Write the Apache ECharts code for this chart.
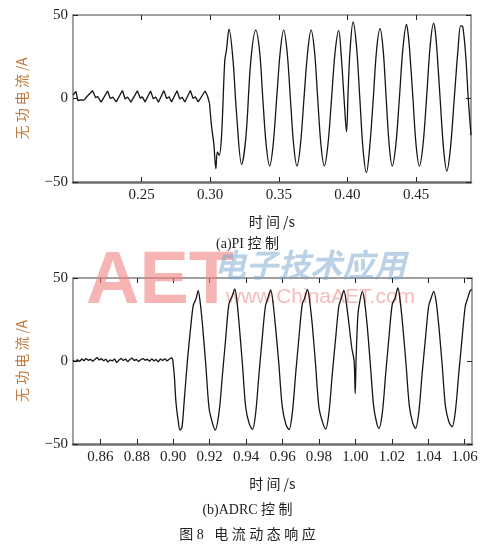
<!DOCTYPE html>
<html><head><meta charset="utf-8">
<script src="https://cdn.jsdelivr.net/npm/echarts@6/dist/echarts.min.js"></script>
<style>html,body{margin:0;padding:0;background:#fff}#c{width:495px;height:556px}</style>
</head><body><div id="c"></div>
<script>
// (a) PI control: time (s) and reactive current (A)
const piT = [0.2000,0.2022,0.2035,0.2060,0.2080,0.2105,0.2143,0.2165,0.2180,0.2205,0.2252,0.2272,0.2290,0.2315,0.2360,0.2380,0.2398,0.2422,0.2469,0.2490,0.2505,0.2525,0.2565,0.2585,0.2603,0.2622,0.2662,0.2682,0.2700,0.2718,0.2758,0.2778,0.2795,0.2815,0.2855,0.2875,0.2892,0.2912,0.2963,0.2980,0.2995,
0.3010,0.3026,0.3041,0.3052,0.3065,0.3082,0.3106,0.3118,0.3137,0.3166,0.3190,0.3229,0.3260,0.3296,0.3332,0.3360,0.3383,0.3408,0.3433,0.3458,0.3484,0.3510,0.3535,0.3560,0.3584,0.3608,0.3632,0.3657,0.3683,0.3710,0.3735,0.3760,0.3783,0.3807,0.3831,0.3857,0.3884,0.3910,0.3936,0.3955,0.3975,0.3993,0.4005,0.4018,0.4041,0.4066,0.4090,0.4114,0.4138,0.4162,0.4188,0.4212,0.4237,0.4260,0.4282,0.4304,0.4326,0.4352,0.4378,0.4404,0.4430,0.4440,0.4452,0.4477,0.4500,0.4524,0.4550,0.4576,0.4602,0.4627,0.4637,0.4650,0.4675,0.4700,0.4724,0.4750,0.4778,0.4806,0.4825,0.4840,0.4862,0.4880,0.4900];
const piI = [2.0,4.2,-1.2,-0.8,-1.0,1.5,4.6,0.5,1.2,-2.2,4.5,0.0,0.8,-2.0,4.8,-0.3,0.9,-2.2,4.6,0.2,1.0,-2.0,4.5,-0.2,0.9,-2.2,4.7,0.0,1.0,-2.0,4.6,-0.3,0.8,-2.1,4.8,0.0,1.0,-2.0,4.5,1.5,-3.0,
-17,-27,-42,-32,-34,-23,22.9,28.9,41.5,23,-7,-39.4,-23,23,41,28,0,-28,-40.4,-28,0,28,41,28,0,-28,-40.4,-28,0,28,41,28,0,-28,-40.4,-28,0,28,40.7,25,0,-20,5,28,45.8,31,0,-31,-44.4,-29,0,29,41.8,29,0,-28,-40.4,-28,0,30,44.4,40,30,0,-28,-40.5,-28,0,31,45,42,31,0,-30,-43.4,-30,0,30,43.5,43,25,0,-22];
const piStep = 0.2995;

// (b) ADRC control
const adrcT = [0.8450,0.8462,0.8474,0.8486,0.8498,0.8510,0.8522,0.8534,0.8546,0.8558,0.8570,0.8582,0.8594,0.8606,0.8618,0.8630,0.8642,0.8654,0.8666,0.8678,0.8690,0.8702,0.8714,0.8726,0.8738,0.8750,0.8762,0.8774,0.8786,0.8798,0.8810,0.8822,0.8834,0.8846,0.8858,0.8870,0.8882,0.8894,0.8906,0.8918,0.8930,0.8942,0.8954,0.8966,0.8978,0.8990,0.8997,
0.9006,0.9015,0.9028,0.9037,0.9048,0.9060,0.9079,0.9097,0.9110,0.9125,0.9137,0.9148,0.9161,0.9179,0.9197,0.9216,0.9230,0.9252,0.9270,0.9288,0.9306,0.9325,0.9338,0.9349,
0.9362,0.9380,0.9398,0.9418,0.9435,0.9452,0.9470,0.9488,0.9506,0.9520,0.9535,0.9547,0.9562,0.9580,0.9598,0.9618,0.9636,0.9654,0.9672,0.9690,0.9708,0.9722,0.9737,0.9749,0.9764,0.9782,0.9800,0.9820,0.9837,0.9855,0.9873,0.9891,0.9909,0.9923,0.9937,0.9950,0.9965,0.9980,0.9993,0.9999,1.0004,1.0014,1.0026,1.0038,1.0050,1.0065,1.0082,1.0100,1.0116,1.0129,1.0148,1.0166,1.0184,1.0202,1.0218,1.0233,1.0245,1.0260,1.0278,1.0296,1.0314,1.0330,1.0348,1.0366,1.0384,1.0402,1.0416,1.0430,1.0443,1.0458,1.0476,1.0494,1.0514,1.0531,1.0549,1.0567,1.0585,1.0603,1.0617,1.0630,1.0640];
const adrcI = [0.5,-0.5,0.8,-0.3,1.2,0.2,1.5,0.4,1.0,-0.2,0.9,2.2,0.6,1.4,0.1,1.1,-0.6,0.7,0.0,1.3,-1.0,0.5,1.6,0.3,1.2,-0.4,0.9,1.8,0.2,1.0,-0.3,0.8,1.5,0.4,1.1,-0.2,1.3,0.1,0.9,-0.5,1.2,0.3,1.4,0.0,1.1,2.0,1.2,
-8.6,-24.6,-36.6,-41.6,-40,-24.6,1.4,21.4,33.4,37.4,42.4,35.4,21.4,-2.6,-28.6,-37.6,-41.6,-30.6,-8.6,13.4,34.4,39.4,43.4,37,
22,-2,-28,-38,-41.2,-32,-9,13,33,38,42.8,36,20,-2,-27,-38,-41.4,-31,-8,14,34,38,43.2,36,21,-3,-28,-37,-41,-31,-8,13,33,38,42.5,35,22,8,0,-19.6,2,28,37,42,36,21,-2,-27,-37,-40.6,-31,-8,14,34,38,44,37,21,-2,-27,-37,-40.6,-31,-8,13,33,38,42,36,21,-2,-27,-37,-39.6,-30,-8,13,33,38,42.5,43];
const adrcStep = 0.8997;

const piTicks = [0.25,0.30,0.35,0.40,0.45];
const adrcTicks = [0.86,0.88,0.90,0.92,0.94,0.96,0.98,1.00,1.02,1.04,1.06];
const yTicks = [-50,0,50];

const pair = (T, V) => T.map((t, i) => [t, V[i]]);
const piPts = pair(piT, piI), adrcPts = pair(adrcT, adrcI);

const serif = "'Liberation Serif','DejaVu Serif',serif";
const cjk = "'Noto Sans CJK SC','Liberation Serif',sans-serif";
const tickFmt = v => (+v).toFixed(2);
const yFmt = v => String(v).replace('-', '\u2212');

function xAxes(grid, min, max, ticks) {
  const base = {
    type: 'value', gridIndex: grid, min: min, max: max,
    splitLine: {show: false},
    axisTick: {show: true, inside: true, length: 5, customValues: ticks, lineStyle: {color: '#222', width: 1}},
  };
  return [
    Object.assign({}, base, {
      position: 'bottom',
      axisLine: {show: true, onZero: false, lineStyle: {color: '#6e6e6e', width: 2.5}},
      axisLabel: {show: true, customValues: ticks, formatter: tickFmt, fontFamily: serif, fontSize: 15, color: '#222', margin: 6},
      name: '时 间 /s', nameLocation: 'middle', nameGap: 33,
      nameTextStyle: {fontFamily: cjk, fontSize: 14, color: '#222'}
    }),
    Object.assign({}, base, {
      position: 'top',
      axisLine: {show: true, onZero: false, lineStyle: {color: '#a0a0a0', width: 2}},
      axisLabel: {show: false}
    })
  ];
}
function yAxes(grid) {
  const base = {
    type: 'value', gridIndex: grid, min: -50, max: 50, interval: 50,
    splitLine: {show: false},
    axisTick: {show: true, inside: true, length: 5, lineStyle: {color: '#222', width: 1}}
  };
  return [
    Object.assign({}, base, {
      position: 'left',
      axisLine: {show: true, onZero: false, lineStyle: {color: '#a0a0a0', width: 2}},
      axisLabel: {show: true, formatter: yFmt, fontFamily: serif, fontSize: 15, color: '#222', margin: 5},
      name: '无 功 电 流 /A', nameLocation: 'middle', nameGap: 44,
      nameTextStyle: {fontFamily: cjk, fontSize: 14, color: '#c07a3a'}
    }),
    Object.assign({}, base, {
      position: 'right',
      axisLine: {show: true, onZero: false, lineStyle: {color: '#a0a0a0', width: 2}},
      axisLabel: {show: false}
    })
  ];
}

const lineStyle = {color: '#151515', width: 1.3};
const mk = (pts, xi, yi, smooth) => ({
  type: 'line', data: pts, xAxisIndex: xi, yAxisIndex: yi, showSymbol: false, symbol: 'none',
  smooth: smooth, lineStyle: lineStyle, animation: false, z: 5
});

const chart = echarts.init(document.getElementById('c'), null, {renderer: 'canvas'});
chart.setOption({
  animation: false,
  backgroundColor: '#fff',
  grid: [
    {left: 73, top: 15, width: 398, height: 167},
    {left: 73, top: 278, width: 399, height: 166}
  ],
  xAxis: xAxes(0, 0.2, 0.49, piTicks).concat(xAxes(1, 0.845, 1.064, adrcTicks)),
  yAxis: yAxes(0).concat(yAxes(1)),
  series: [
    mk(piPts.filter(p => p[0] <= piStep), 0, 0, false),
    mk(piPts.filter(p => p[0] >= piStep), 0, 0, 0.35),
    mk(adrcPts.filter(p => p[0] <= adrcStep), 2, 2, false),
    mk(adrcPts.filter(p => p[0] >= adrcStep), 2, 2, 0.3)
  ],
  graphic: [
    {type: 'text', left: 'center', top: 237, z: 10, style: {text: '(a)PI 控 制', font: "14px 'Liberation Serif','Noto Sans CJK SC'", fill: '#222'}},
    {type: 'text', left: 'center', top: 503, z: 10, style: {text: '(b)ADRC 控 制', font: "14px 'Liberation Serif','Noto Sans CJK SC'", fill: '#222'}},
    {type: 'text', left: 'center', top: 528, z: 10, style: {text: '图 8   电 流 动 态 响 应', font: "14px 'Liberation Serif','Noto Sans CJK SC'", fill: '#222'}},
    {type: 'text', x: 86, y: 246, z: 1, style: {text: 'AET', font: "bold 74px 'Liberation Sans',sans-serif", fill: 'rgba(240,130,130,0.6)'}},
    {type: 'text', x: 214, y: 249, z: 1, style: {text: '电子技术应用', font: "italic bold 32px 'Noto Sans CJK SC'", fill: 'rgba(120,165,205,0.5)'}},
    {type: 'text', x: 226, y: 287, z: 1, style: {text: 'www.ChinaAET.com', font: "21px 'Liberation Sans',sans-serif", fill: 'rgba(240,140,140,0.6)'}}
  ]
});
</script></body></html>
